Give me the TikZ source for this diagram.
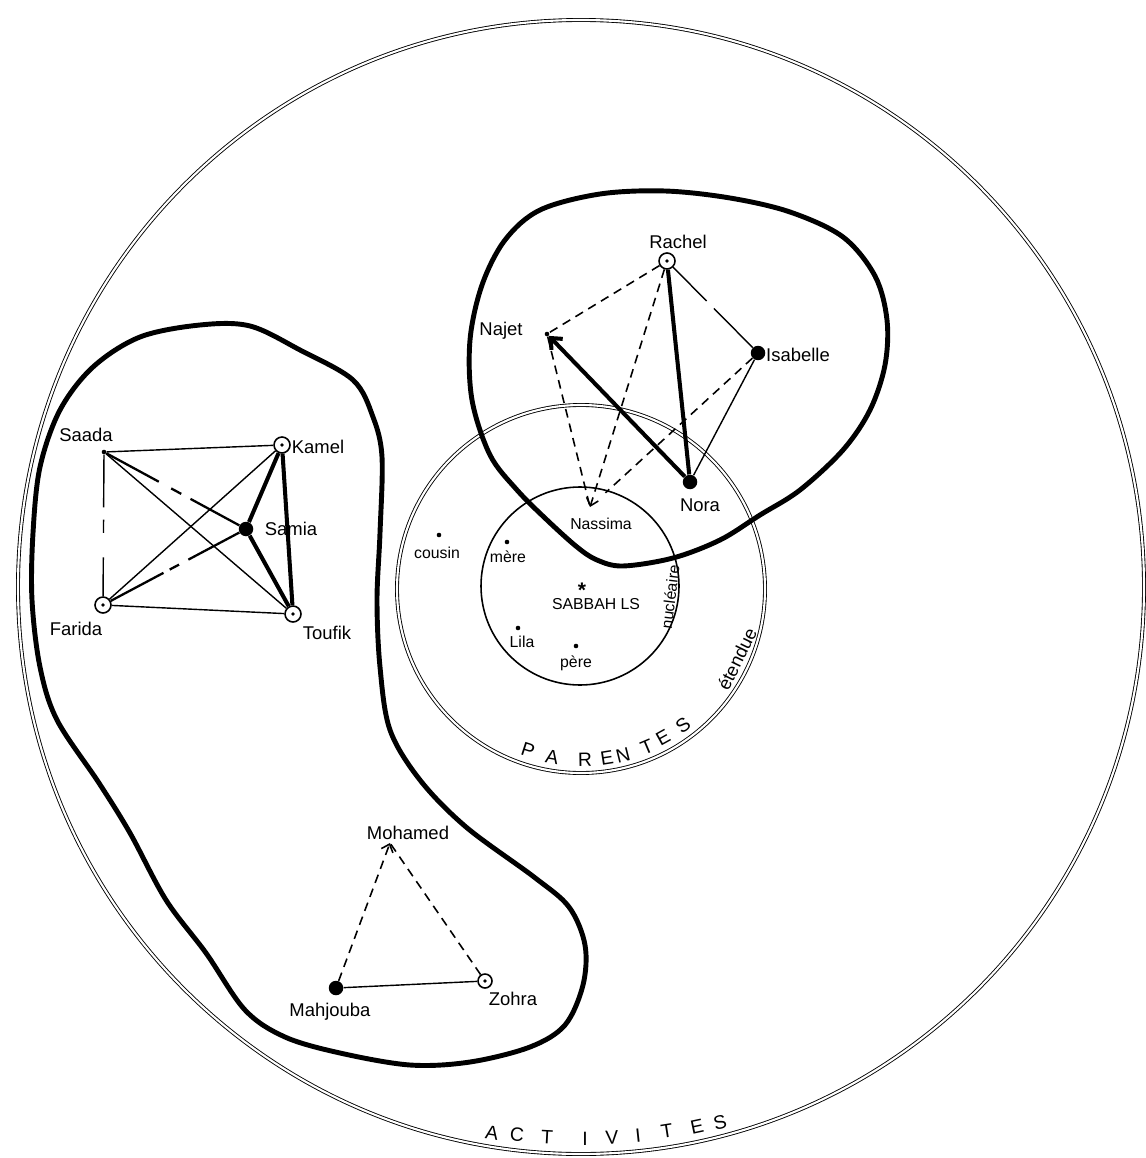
\documentclass[tikz,border=0pt]{standalone}
\usepackage{fontspec}
\setmainfont{Liberation Sans}
\usetikzlibrary{arrows.meta}
\begin{document}
\begin{tikzpicture}[x=0.02cm, y=-0.02cm,
  thinl/.style={line width=0.8pt},
  medl/.style={line width=1.3pt},
  thickl/.style={line width=2.3pt},
  dashl/.style={line width=0.9pt, dash pattern=on 5pt off 3.5pt},
  blob/.style={line width=2.8pt, line join=round},
  ring/.style={draw, double, line width=0.5pt, double distance=1.2pt},
  fdot/.style={circle, fill=black, inner sep=0pt, minimum size=0.29cm},
  odot/.style={circle, draw, line width=0.9pt, fill=white, inner sep=0pt, minimum size=0.32cm},
  pdot/.style={circle, fill=black, inner sep=0pt, minimum size=2.6pt},
  lbl/.style={font=\fontsize{10.5}{12}\selectfont, inner sep=0pt},
  sml/.style={font=\fontsize{9}{10}\selectfont, inner sep=0pt},
  captxt/.style={font=\fontsize{11}{12}\selectfont, inner sep=0pt},
  tipend/.style={-{Straight Barb[length=4pt, width=7pt]}}
]
\useasboundingbox (0,0) rectangle (1145,1158);

% ---- enclosing shapes ----
\draw[ring] (581,587) ellipse [x radius=563, y radius=567];
\draw[ring] (581,589) circle [radius=184];
\draw[line width=0.9pt] (580,586) circle [radius=99];

\draw[blob] plot[smooth cycle, tension=0.55] coordinates {
 (200,325) (250,326) (300,350) (353,380) (373,417) (382,457) (380,533) (377,600)
 (380,667) (390,730) (420,780) (466,827) (534,877) (569,907) (585,945) (583,985)
 (565,1025) (530,1047) (470,1062) (410,1065) (340,1053) (285,1037) (245,1010)
 (206,953) (166,900) (130,833) (99,783) (57,720) (40,667) (32,600) (33,533)
 (40,467) (60,410) (93,367) (140,337)};

\draw[blob] plot[smooth cycle, tension=0.55] coordinates {
 (665,191) (730,198) (790,212) (843,237) (875,276) (887,320) (885,365) (870,410)
 (843,450) (800,490) (760,515) (720,540) (673,558) (623,566) (597,560) (577,547)
 (547,520) (517,490) (490,455) (472,400) (470,340) (482,285) (505,240) (540,210)
 (600,194)};

% ---- left group ----
\node[pdot] (saada)  at (104,452) {};
\node[odot] (kamel)  at (282,445) {};
\node[fdot] (samia)  at (246,529) {};
\node[odot] (farida) at (103,605) {};
\node[odot] (toufik) at (293,614) {};

\draw[thinl] (saada) -- (kamel);
\draw[thinl, dash pattern=on 30pt off 7pt on 7.5pt off 14pt on 60pt] (saada) -- (farida);
\draw[thinl] (saada) -- (toufik);
\draw[medl, dash pattern=on 34pt off 8pt on 6.5pt off 6pt on 60pt] (saada) -- (samia);
\draw[thinl] (kamel) -- (farida);
\draw[medl, dash pattern=on 34pt off 4pt on 6pt off 6pt on 60pt] (farida) -- (samia);
\draw[thickl] (kamel) -- (samia);
\draw[thickl] (samia) -- (toufik);
\draw[thickl] (kamel) -- (toufik);
\draw[thinl] (farida) -- (toufik);

\node[lbl] (saadaL)  at (86,435)  {Saada};
\node[lbl] (kamelL)  at (318,447) {Kamel};
\node[lbl] (samiaL)  at (291,529) {Samia};
\node[lbl] (faridaL) at (76,629)  {Farida};
\node[lbl] (toufikL) at (327,633) {Toufik};

% ---- right group ----
\node[odot] (rachel)   at (667,261) {};
\node[pdot] (najet)    at (547,334) {};
\node[fdot] (isabelle) at (758,353) {};
\node[fdot] (nora)     at (690,482) {};
\coordinate (nassima)  at (590,507);

\draw[dashl] (rachel) -- (najet);
\draw[dashl, tipend] (rachel) -- (nassima);
\draw[dashl] (najet) -- (nassima);
\draw[dashl, shorten >=0.42cm] (isabelle) -- (nassima);
\draw[thickl] (rachel) -- (nora);
\draw[thinl, dash pattern=on 27pt off 6pt on 80pt] (rachel) -- (isabelle);
\draw[thinl] (isabelle) -- (nora);
\draw[thickl, -{Straight Barb[length=5pt, width=9pt]}] (nora) -- (najet);

\node[lbl] (rachelL)   at (678,242) {Rachel};
\node[lbl] (najetL)    at (501,331) {Najet};
\node[lbl] (isabelleL) at (798,355) {Isabelle};
\node[lbl] (noraL)     at (700,505) {Nora};
\node[sml] (nassimaL)  at (601,524) {Nassima};

% ---- kinship circles ----
\node[pdot] (cousinD) at (439,535) {};
\node[pdot] (mereD)   at (507,542) {};
\node[pdot] (lilaD)   at (518,628) {};
\node[pdot] (pereD)   at (576,646) {};
\node[sml] (cousinL) at (437,553) {cousin};
\node[sml] (mereL)   at (508,557) {mère};
\node[sml] (lilaL)   at (522,642) {Lila};
\node[sml] (pereL)   at (576,663) {père};
\node[font=\fontsize{12}{12}\selectfont\bfseries, inner sep=0pt] (star) at (582,590) {*};
\node[sml] (sabbah)  at (596,604) {SABBAH LS};
\node[sml, rotate=83] (nucl) at (670,597) {nucléaire};
\node[lbl, rotate=64] (eten) at (737,659) {étendue};

\foreach \ch/\px/\py/\r [count=\i] in {P/528/750/-18, A/552/757/-10, R/585/760/1, E/607/758/9,
   N/623/755/14, T/647/747/23, E/663/738/29, S/683/725/37}
  \node[captxt, rotate=\r] (par\i) at (\px,\py) {\ch};

% ---- bottom triangle ----
\coordinate (mohamed) at (390,843);
\node[fdot] (mahjouba) at (336,988) {};
\node[odot, minimum size=0.28cm] (zohra) at (485,981) {};
\draw[dashl, tipend] (mahjouba) -- (mohamed);
\draw[dashl] (zohra) -- (mohamed);
\draw[thinl] (mahjouba) -- (zohra);
\node[lbl] (mohamedL)  at (408,833)  {Mohamed};
\node[lbl] (mahjoubaL) at (330,1012) {Mahjouba};
\node[lbl] (zohraL)    at (513,999)  {Zohra};

% centre dots of the ringed persons
\foreach \n in {kamel, farida, toufik, rachel, zohra}
  \fill (\n.center) circle (1.1pt);

% ---- ACTIVITES ----
\foreach \ch/\px/\py/\r [count=\i] in {A/492/1133/-9, C/517/1135/-6, T/547/1137/-3, I/585/1139/0,
   V/612/1138/3, I/638/1136/6, T/667/1131/9, E/697/1127/12, S/720/1122/14}
  \node[captxt, rotate=\r] (act\i) at (\px,\py) {\ch};
\end{tikzpicture}
\end{document}
